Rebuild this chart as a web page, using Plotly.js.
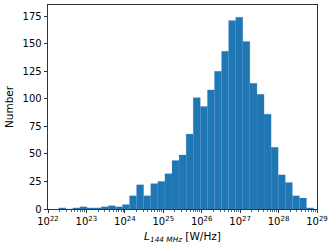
<!DOCTYPE html>
<html>
<head>
<meta charset="utf-8">
<script src="https://cdn.plot.ly/plotly-3.0.1.min.js"></script>
<style>html,body{margin:0;padding:0;background:#fff;}#chart{width:334px;height:248px;}</style>
</head>
<body>
<div id="chart"></div>
<script>
// Histogram of log10(L_144MHz / W/Hz): bin edges span logMin..logMax in equal log steps
const logMin = 22.278;
const logMax = 28.912;
const counts = [1, 0, 1, 2, 1, 1, 2, 3, 2, 4,
                12, 22, 12, 23, 25, 32, 44, 49, 68, 101,
                93, 108, 125, 143, 171, 174, 152, 114, 104, 86,
                56, 31, 24, 12, 10, 1];
const majorExps = [22, 23, 24, 25, 26, 27, 28, 29];
const majorLabels = majorExps.map(e => '10<sup>' + e + '</sup>');
const yTicks = [0, 25, 50, 75, 100, 125, 150, 175];

const nBins = counts.length;
const binW = (logMax - logMin) / nBins;
const centers = counts.map((_, i) => logMin + (i + 0.5) * binW);

const minorVals = [];
for (let e = 22; e < 29; e++) for (let k = 2; k <= 9; k++) minorVals.push(e + Math.log10(k));

const font = {family: 'DejaVu Sans', size: 10, color: '#000'};

Plotly.newPlot('chart', [{
  type: 'bar',
  x: centers,
  y: counts,
  width: binW,
  marker: {color: '#1f77b4', line: {width: 0.3, color: 'rgba(70,140,200,0.7)'}},
  hoverinfo: 'skip'
}], {
  width: 334, height: 248,
  margin: {l: 48, r: 17, t: 5, b: 39},
  paper_bgcolor: '#fff', plot_bgcolor: '#fff',
  showlegend: false,
  bargap: 0,
  font: font,
  xaxis: {
    range: [22, 29],
    tickmode: 'array', tickvals: majorExps, ticktext: majorLabels,
    ticks: 'outside', ticklen: 3.5, tickwidth: 0.8, tickcolor: '#000',
    minor: {tickmode: 'array', tickvals: minorVals, ticks: 'outside', ticklen: 2, tickwidth: 0.6, tickcolor: '#000', showgrid: false},
    showgrid: false, zeroline: false,
    showline: true, mirror: true, linecolor: '#000', linewidth: 0.8,
    tickfont: {family: 'DejaVu Sans', size: 10, color: '#000'},
    title: {text: '<i>L</i><sub><i>144 MHz</i></sub> [W/Hz]', font: {family: 'DejaVu Sans', size: 10.5, color: '#000'}, standoff: 6}
  },
  yaxis: {
    range: [0, 185],
    tickmode: 'array', tickvals: yTicks,
    ticks: 'outside', ticklen: 3.5, tickwidth: 0.8, tickcolor: '#000',
    showgrid: false, zeroline: false,
    showline: true, mirror: true, linecolor: '#000', linewidth: 0.8,
    tickfont: {family: 'DejaVu Sans', size: 10, color: '#000'},
    title: {text: 'Number', font: {family: 'DejaVu Sans', size: 10.5, color: '#000'}, standoff: 6}
  }
}, {staticPlot: true, displayModeBar: false});
</script>
</body>
</html>
